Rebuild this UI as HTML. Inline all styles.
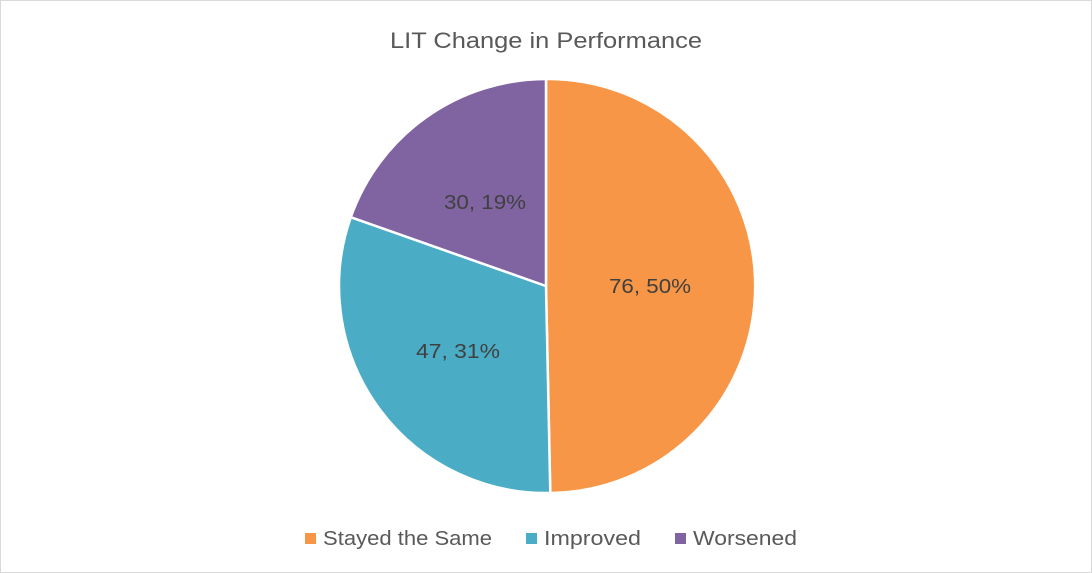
<!DOCTYPE html>
<html><head><meta charset="utf-8"><style>
html,body{margin:0;padding:0;background:#fff}
svg{display:block}
text{font-family:"Liberation Sans",sans-serif}
</style></head><body>
<svg width="1092" height="573" viewBox="0 0 1092 573">
<rect x="0.5" y="0.5" width="1091" height="572" fill="#fff" stroke="#d9d9d9"/>
<text x="546" y="48" text-anchor="middle" font-size="22" fill="#595959" textLength="312" lengthAdjust="spacingAndGlyphs">LIT Change in Performance</text>
<g stroke="#fff" stroke-width="2.5" stroke-linejoin="round">
<path d="M546,286 L546,79 A207,207 0 0 1 550.3,493 Z" fill="#F79646"/>
<path d="M546,286 L550.3,493 A207,207 0 0 1 350.8,217.2 Z" fill="#4BACC6"/>
<path d="M546,286 L350.8,217.2 A207,207 0 0 1 546,79 Z" fill="#8064A2"/>
</g>
<g font-size="20" fill="#404040" text-anchor="middle">
<text x="650" y="293" textLength="82" lengthAdjust="spacingAndGlyphs">76, 50%</text>
<text x="458" y="358" textLength="84" lengthAdjust="spacingAndGlyphs">47, 31%</text>
<text x="485" y="209" textLength="82" lengthAdjust="spacingAndGlyphs">30, 19%</text>
</g>
<g font-size="20" fill="#595959">
<rect x="305" y="533" width="11" height="11" fill="#F79646"/>
<text x="323" y="545" textLength="169" lengthAdjust="spacingAndGlyphs">Stayed the Same</text>
<rect x="526" y="533" width="11" height="11" fill="#4BACC6"/>
<text x="544" y="545" textLength="97" lengthAdjust="spacingAndGlyphs">Improved</text>
<rect x="675" y="533" width="11" height="11" fill="#8064A2"/>
<text x="693" y="545" textLength="104" lengthAdjust="spacingAndGlyphs">Worsened</text>
</g>
</svg>
</body></html>
